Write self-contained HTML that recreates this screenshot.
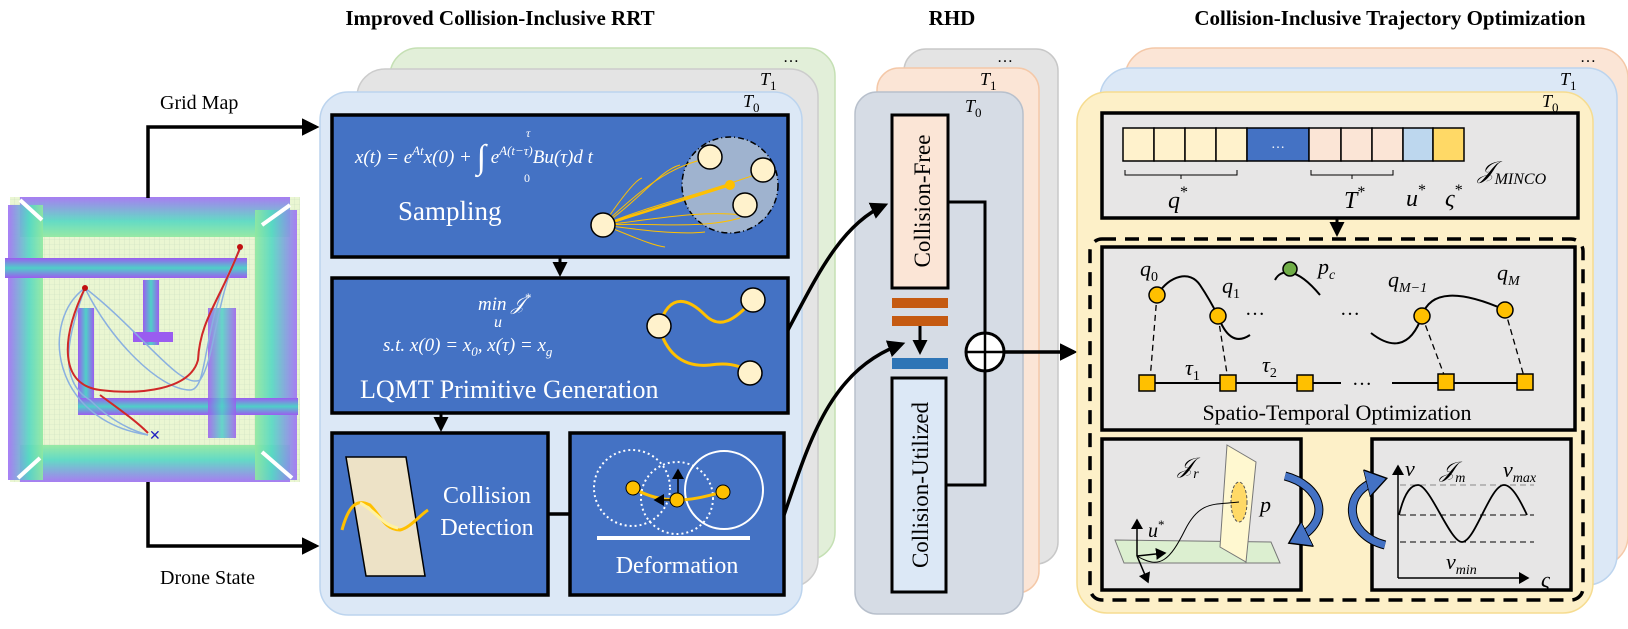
<!DOCTYPE html>
<html><head><meta charset="utf-8"><style>
html,body{margin:0;padding:0;background:#fff;}
svg{display:block;}
.t{font-family:"Liberation Serif",serif;}
.i{font-family:"Liberation Serif",serif;font-style:italic;}
</style></head><body>
<svg width="1628" height="629" viewBox="0 0 1628 629" xmlns="http://www.w3.org/2000/svg">
<defs>
<marker id="ah" markerWidth="8" markerHeight="8" refX="6" refY="4" orient="auto" markerUnits="strokeWidth"><path d="M0,0 L7,4 L0,8 z" fill="#000"/></marker>
<marker id="ah2" markerWidth="5" markerHeight="5" refX="4" refY="2.5" orient="auto" markerUnits="strokeWidth"><path d="M0,0 L5,2.5 L0,5 z" fill="#000"/></marker>
<marker id="bh" markerWidth="4" markerHeight="4" refX="2" refY="2" orient="auto" markerUnits="strokeWidth"><path d="M0,0 L3,2 L0,4 z" fill="#4472c4" stroke="#000" stroke-width="0.2"/></marker>
<pattern id="grid" width="5" height="5" patternUnits="userSpaceOnUse"><rect width="5" height="5" fill="#eaf6d2"/><path d="M5,0 V5 M0,5 H5" stroke="#c9dcc0" stroke-width="0.6"/></pattern>
<linearGradient id="wh" x1="0" y1="0" x2="0" y2="1"><stop offset="0" stop-color="#9b5cf0"/><stop offset="0.5" stop-color="#4fd0c8"/><stop offset="1" stop-color="#9b5cf0"/></linearGradient>
<linearGradient id="wv" x1="0" y1="0" x2="1" y2="0"><stop offset="0" stop-color="#9b5cf0"/><stop offset="0.5" stop-color="#4fd0c8"/><stop offset="1" stop-color="#9b5cf0"/></linearGradient>
<linearGradient id="wt" x1="0" y1="0" x2="0" y2="1"><stop offset="0" stop-color="#a070f5"/><stop offset="0.6" stop-color="#55d8c4"/><stop offset="1" stop-color="#8fe8a0"/></linearGradient>
<linearGradient id="wb" x1="0" y1="1" x2="0" y2="0"><stop offset="0" stop-color="#a070f5"/><stop offset="0.6" stop-color="#55d8c4"/><stop offset="1" stop-color="#8fe8a0"/></linearGradient>
<linearGradient id="wl" x1="0" y1="0" x2="1" y2="0"><stop offset="0" stop-color="#a070f5"/><stop offset="0.6" stop-color="#55d8c4"/><stop offset="1" stop-color="#8fe8a0"/></linearGradient>
<linearGradient id="wr" x1="1" y1="0" x2="0" y2="0"><stop offset="0" stop-color="#a070f5"/><stop offset="0.6" stop-color="#55d8c4"/><stop offset="1" stop-color="#8fe8a0"/></linearGradient>
</defs>

<text x="500" y="25" class="t" font-size="21" font-weight="bold" text-anchor="middle">Improved Collision-Inclusive RRT</text>
<text x="952" y="25" class="t" font-size="21" font-weight="bold" text-anchor="middle">RHD</text>
<text x="1390" y="25" class="t" font-size="21" font-weight="bold" text-anchor="middle">Collision-Inclusive Trajectory Optimization</text>

<g>
<rect x="10" y="197" width="290" height="285" fill="url(#grid)"/>
<rect x="20" y="197" width="270" height="40" fill="url(#wt)" opacity="0.9"/>
<rect x="20" y="445" width="270" height="37" fill="url(#wb)" opacity="0.9"/>
<rect x="8" y="205" width="35" height="275" fill="url(#wl)" opacity="0.9"/>
<rect x="255" y="210" width="42" height="270" fill="url(#wr)" opacity="0.9"/>
<rect x="5" y="258" width="242" height="20" fill="url(#wh)"/>
<rect x="78" y="308" width="16" height="105" fill="url(#wv)"/>
<rect x="78" y="398" width="220" height="17" fill="url(#wh)"/>
<rect x="143" y="280" width="16" height="65" fill="url(#wv)"/>
<rect x="133" y="332" width="40" height="10" fill="#9a5cf0"/>
<rect x="208" y="308" width="28" height="130" fill="url(#wv)" opacity="0.85"/>
<path d="M20,200 L42,220 M290,205 L262,225 M18,478 L40,458 M292,478 L262,452" stroke="#fff" stroke-width="4"/>
<path d="M85,288 C70,330 55,380 90,400 C110,420 130,430 148,435" fill="none" stroke="#8ab0e0" stroke-width="1.5"/>
<path d="M85,288 C40,320 50,420 148,435" fill="none" stroke="#8ab0e0" stroke-width="1.5"/>
<path d="M85,288 C110,340 160,390 190,390 C210,390 200,320 240,250" fill="none" stroke="#8ab0e0" stroke-width="1.5"/>
<path d="M85,288 C140,330 180,390 200,380 C215,360 215,300 240,248" fill="none" stroke="#8ab0e0" stroke-width="1.5"/>
<path d="M85,288 C60,340 60,385 100,390 C140,395 190,390 198,360 C200,320 220,300 240,248" fill="none" stroke="#d02828" stroke-width="2"/>
<path d="M100,395 C120,410 135,420 148,433" fill="none" stroke="#d02828" stroke-width="2"/>
<circle cx="85" cy="288" r="3" fill="#c01010"/><circle cx="240" cy="247" r="3" fill="#c01010"/>
<text x="149" y="440" font-size="14" fill="#2020c0" font-family="Liberation Sans,sans-serif">✕</text>
</g>

<text x="160" y="109" class="t" font-size="20">Grid Map</text>
<path d="M148,198 V127 H316" fill="none" stroke="#000" stroke-width="3.5" marker-end="url(#ah2)"/>
<text x="160" y="584" class="t" font-size="20">Drone State</text>
<path d="M148,482 V546 H316" fill="none" stroke="#000" stroke-width="3.5" marker-end="url(#ah2)"/>

<rect x="390" y="48" width="445" height="512" rx="28" fill="#e2efd9" stroke="#c5e0b4" stroke-width="1.5"/>
<rect x="357" y="69" width="461" height="518" rx="28" fill="#e4e4e4" stroke="#cccccc" stroke-width="1.5"/>
<rect x="320" y="92" width="482" height="523" rx="28" fill="#dce8f6" stroke="#bcd4ee" stroke-width="1.5"/>
<text x="783" y="62" class="t" font-size="16">…</text>
<text x="760" y="85" class="i" font-size="18">T<tspan font-style="normal" font-size="13" dy="5">1</tspan></text>
<text x="743" y="107" class="i" font-size="18">T<tspan font-style="normal" font-size="13" dy="5">0</tspan></text>

<rect x="332" y="115" width="456" height="142" fill="#4472c4" stroke="#000" stroke-width="3.5"/>
<text x="355" y="163" class="i" font-size="19" fill="#fff">x(t) = e<tspan dy="-8" font-size="13">At</tspan><tspan dy="8">x(0) + </tspan><tspan font-style="normal" font-size="34" dy="5">∫</tspan><tspan dy="-5"> e</tspan><tspan dy="-8" font-size="13">A(t−τ)</tspan><tspan dy="8">Bu(τ)d t</tspan></text>
<text x="526" y="137" class="i" font-size="12" fill="#fff">τ</text>
<text x="524" y="182" class="t" font-size="12" fill="#fff">0</text>
<text x="398" y="220" class="t" font-size="27" fill="#fff">Sampling</text>
<circle cx="730" cy="185" r="48" fill="#9fb3cf" stroke="#000" stroke-width="1.5" stroke-dasharray="6 3 1 3"/>
<g stroke="#ffc000" fill="none" stroke-width="1">
<path d="M603,225 C640,200 660,170 680,165"/><path d="M603,225 C640,190 670,165 710,158"/>
<path d="M603,225 C650,205 700,195 763,172"/><path d="M603,225 C650,220 700,210 742,215"/>
<path d="M603,225 C650,222 700,230 740,218"/><path d="M603,225 C640,230 680,235 705,232"/>
<path d="M603,225 C630,235 650,245 665,247"/><path d="M603,225 C620,200 635,180 642,178"/>
</g>
<path d="M603,225 L730,185" stroke="#ffc000" stroke-width="2.5"/>
<circle cx="730" cy="185" r="5" fill="#ffc000"/>
<g fill="#fff2cc" stroke="#000" stroke-width="1.5">
<circle cx="710" cy="157" r="12"/><circle cx="763" cy="170" r="12"/><circle cx="745" cy="205" r="12"/><circle cx="603" cy="225" r="12"/>
</g>
<line x1="560" y1="258" x2="560" y2="274" stroke="#000" stroke-width="3" marker-end="url(#ah2)"/>

<rect x="332" y="278" width="456" height="135" fill="#4472c4" stroke="#000" stroke-width="3.5"/>
<text x="478" y="310" class="i" font-size="19" fill="#fff">min 𝒥<tspan dy="-8" font-size="13">*</tspan></text>
<text x="494" y="327" class="i" font-size="16" fill="#fff">u</text>
<text x="383" y="351" class="i" font-size="19" fill="#fff">s.t. x(0) = x<tspan font-size="13" dy="5">0</tspan><tspan dy="-5">, x(τ) = x</tspan><tspan font-size="13" dy="5">g</tspan></text>
<text x="360" y="398" class="t" font-size="26" fill="#fff">LQMT Primitive Generation</text>
<path d="M659,326 C670,290 690,300 705,315 C720,330 735,320 753,300" fill="none" stroke="#ffc000" stroke-width="3"/>
<path d="M659,326 C665,350 680,368 710,365 C730,362 742,366 750,373" fill="none" stroke="#ffc000" stroke-width="3"/>
<g fill="#fff2cc" stroke="#000" stroke-width="1.5">
<circle cx="659" cy="326" r="12"/><circle cx="753" cy="300" r="12"/><circle cx="750" cy="373" r="12"/>
</g>
<line x1="441" y1="414" x2="441" y2="429" stroke="#000" stroke-width="3" marker-end="url(#ah2)"/>

<rect x="332" y="433" width="216" height="162" fill="#4472c4" stroke="#000" stroke-width="3.5"/>
<polygon points="346,457 406,457 425,576 366,576" fill="#ede2c6" stroke="#000" stroke-width="1.5"/>
<path d="M342,530 C350,500 360,500 370,505 C380,515 385,530 400,530 C410,528 420,515 428,510" fill="none" stroke="#ffc000" stroke-width="3"/>
<path d="M360,503 C375,510 382,525 398,528" fill="none" stroke="#fff2a0" stroke-width="3"/>
<text x="487" y="503" class="t" font-size="24" fill="#fff" text-anchor="middle">Collision</text>
<text x="487" y="535" class="t" font-size="24" fill="#fff" text-anchor="middle">Detection</text>
<line x1="548" y1="514" x2="570" y2="514" stroke="#000" stroke-width="3.5"/>

<rect x="570" y="433" width="214" height="162" fill="#4472c4" stroke="#000" stroke-width="3.5"/>
<circle cx="632" cy="488" r="38" fill="none" stroke="#fff" stroke-width="2" stroke-dasharray="2 3"/>
<circle cx="677" cy="498" r="36" fill="none" stroke="#fff" stroke-width="2" stroke-dasharray="2 3"/>
<circle cx="724" cy="490" r="39" fill="none" stroke="#fff" stroke-width="2"/>
<path d="M633,488 C650,498 665,500 677,500 C695,500 710,495 723,492" fill="none" stroke="#ffc000" stroke-width="3"/>
<line x1="678" y1="500" x2="678" y2="470" stroke="#000" stroke-width="1.5" marker-end="url(#ah)"/>
<line x1="678" y1="500" x2="655" y2="500" stroke="#000" stroke-width="1.5" marker-end="url(#ah)"/>
<g fill="#ffc000" stroke="#000" stroke-width="1"><circle cx="633" cy="488" r="7"/><circle cx="677" cy="500" r="7"/><circle cx="723" cy="492" r="7"/></g>
<line x1="597" y1="538" x2="750" y2="538" stroke="#fff" stroke-width="4"/>
<text x="677" y="573" class="t" font-size="24" fill="#fff" text-anchor="middle">Deformation</text>

<rect x="904" y="49" width="154" height="515" rx="22" fill="#e4e4e4" stroke="#c8c8c8" stroke-width="1.5"/>
<rect x="877" y="68" width="162" height="525" rx="22" fill="#fbe5d6" stroke="#f4c8a8" stroke-width="1.5"/>
<rect x="855" y="92" width="168" height="522" rx="22" fill="#d6dce5" stroke="#b8c0cc" stroke-width="1.5"/>
<text x="997" y="62" class="t" font-size="16">…</text>
<text x="980" y="85" class="i" font-size="18">T<tspan font-style="normal" font-size="13" dy="5">1</tspan></text>
<text x="965" y="112" class="i" font-size="18">T<tspan font-style="normal" font-size="13" dy="5">0</tspan></text>
<rect x="892" y="115" width="56" height="173" fill="#fbe5d6" stroke="#000" stroke-width="3"/>
<text transform="translate(930,201) rotate(-90)" class="t" font-size="23" text-anchor="middle">Collision-Free</text>
<rect x="892" y="298" width="56" height="10" fill="#c55a11"/>
<rect x="892" y="316" width="56" height="10" fill="#c55a11"/>
<line x1="920" y1="326" x2="920" y2="352" stroke="#000" stroke-width="3" marker-end="url(#ah2)"/>
<rect x="892" y="358" width="56" height="11" fill="#2e75b6"/>
<rect x="892" y="378" width="54" height="214" fill="#dce8f6" stroke="#000" stroke-width="3"/>
<text transform="translate(928,485) rotate(-90)" class="t" font-size="23" text-anchor="middle">Collision-Utilized</text>
<path d="M948,202 H985 V485 H946" fill="none" stroke="#000" stroke-width="3"/>
<circle cx="985" cy="352" r="19" fill="#fff" stroke="#000" stroke-width="3"/>
<line x1="966" y1="352" x2="1004" y2="352" stroke="#000" stroke-width="2.5"/>
<line x1="985" y1="333" x2="985" y2="371" stroke="#000" stroke-width="2.5"/>
<path d="M1004,352 H1074" stroke="#000" stroke-width="3.5" marker-end="url(#ah2)"/>

<path d="M788,330 C815,280 840,225 885,205" fill="none" stroke="#000" stroke-width="3.5" marker-end="url(#ah2)"/>
<path d="M784,515 C810,440 830,370 902,344" fill="none" stroke="#000" stroke-width="3.5" marker-end="url(#ah2)"/>

<rect x="1125" y="48" width="503" height="518" rx="30" fill="#fbe5d6" stroke="#f4c8a8" stroke-width="1.5"/>
<rect x="1100" y="68" width="517" height="517" rx="30" fill="#dce8f6" stroke="#bcd4ee" stroke-width="1.5"/>
<rect x="1077" y="92" width="516" height="521" rx="30" fill="#fdf0c8" stroke="#f6dc90" stroke-width="1.5"/>
<text x="1580" y="62" class="t" font-size="16">…</text>
<text x="1560" y="85" class="i" font-size="18">T<tspan font-style="normal" font-size="13" dy="5">1</tspan></text>
<text x="1542" y="107" class="i" font-size="18">T<tspan font-style="normal" font-size="13" dy="5">0</tspan></text>

<rect x="1102" y="113" width="476" height="105" fill="#e7e6e6" stroke="#000" stroke-width="3.5"/>
<g stroke="#000" stroke-width="1.5">
<rect x="1123" y="128" width="31" height="33" fill="#fff2cc"/><rect x="1154" y="128" width="31" height="33" fill="#fff2cc"/>
<rect x="1185" y="128" width="31" height="33" fill="#fff2cc"/><rect x="1216" y="128" width="31" height="33" fill="#fff2cc"/>
<rect x="1247" y="128" width="62" height="33" fill="#4472c4"/>
<rect x="1309" y="128" width="32" height="33" fill="#fbe5d6"/><rect x="1341" y="128" width="31" height="33" fill="#fbe5d6"/>
<rect x="1372" y="128" width="31" height="33" fill="#fbe5d6"/>
<rect x="1403" y="128" width="30" height="33" fill="#bdd7ee"/><rect x="1433" y="128" width="31" height="33" fill="#ffd966"/>
</g>
<text x="1278" y="148" class="t" font-size="14" fill="#fff" text-anchor="middle">…</text>
<path d="M1125,170 V175 H1237 V170 M1181,175 V179" fill="none" stroke="#000" stroke-width="1"/>
<path d="M1311,170 V175 H1393 V170 M1352,175 V179" fill="none" stroke="#000" stroke-width="1"/>
<text x="1168" y="208" class="i" font-size="24">q<tspan font-style="normal" font-size="16" dy="-11">*</tspan></text>
<text x="1344" y="208" class="i" font-size="24">T<tspan font-style="normal" font-size="16" dy="-11">*</tspan></text>
<text x="1406" y="206" class="i" font-size="24">u<tspan font-style="normal" font-size="16" dy="-11">*</tspan></text>
<text x="1445" y="206" class="i" font-size="24">ς<tspan font-style="normal" font-size="16" dy="-11">*</tspan></text>
<text x="1478" y="178" class="i" font-size="24">𝒥<tspan font-size="16" dy="6">MINCO</tspan></text>
<line x1="1337" y1="218" x2="1337" y2="234" stroke="#000" stroke-width="3" marker-end="url(#ah2)"/>

<rect x="1090" y="239" width="493" height="361" rx="12" fill="none" stroke="#000" stroke-width="3.5" stroke-dasharray="14 9"/>

<rect x="1102" y="247" width="473" height="183" fill="#e7e6e6" stroke="#000" stroke-width="3.5"/>
<path d="M1157,295 C1170,275 1190,270 1200,285 C1210,300 1215,310 1218,316 C1225,335 1235,345 1250,335" fill="none" stroke="#000" stroke-width="2"/>
<path d="M1275,280 C1280,270 1295,265 1320,295" fill="none" stroke="#000" stroke-width="2"/>
<path d="M1371,333 C1390,348 1410,350 1422,316 C1430,290 1460,290 1505,310" fill="none" stroke="#000" stroke-width="2"/>
<g stroke="#000" stroke-width="1.3" stroke-dasharray="6 4">
<line x1="1157" y1="295" x2="1150" y2="380"/><line x1="1218" y1="316" x2="1228" y2="380"/>
<line x1="1422" y1="316" x2="1446" y2="380"/><line x1="1505" y1="310" x2="1525" y2="380"/>
</g>
<g fill="#ffc000" stroke="#000" stroke-width="1.5">
<circle cx="1157" cy="295" r="8"/><circle cx="1218" cy="316" r="8"/><circle cx="1422" cy="316" r="8"/><circle cx="1505" cy="310" r="8"/>
</g>
<circle cx="1290" cy="269" r="7" fill="#70ad47" stroke="#000" stroke-width="1.5"/>
<line x1="1147" y1="383" x2="1341" y2="383" stroke="#000" stroke-width="2"/>
<line x1="1392" y1="383" x2="1525" y2="383" stroke="#000" stroke-width="2"/>
<g fill="#ffc000" stroke="#000" stroke-width="1.5">
<rect x="1139" y="375" width="16" height="16"/><rect x="1220" y="375" width="16" height="16"/><rect x="1297" y="375" width="16" height="16"/>
<rect x="1438" y="374" width="16" height="16"/><rect x="1517" y="374" width="16" height="16"/>
</g>
<text x="1140" y="276" class="i" font-size="22">q<tspan font-style="normal" font-size="14" dy="5">0</tspan></text>
<text x="1222" y="293" class="i" font-size="22">q<tspan font-style="normal" font-size="14" dy="5">1</tspan></text>
<text x="1318" y="274" class="i" font-size="22">p<tspan font-size="14" dy="5">c</tspan></text>
<text x="1388" y="287" class="i" font-size="22">q<tspan font-size="14" dy="5">M−1</tspan></text>
<text x="1497" y="280" class="i" font-size="22">q<tspan font-size="14" dy="5">M</tspan></text>
<text x="1245" y="315" class="t" font-size="20">…</text>
<text x="1340" y="315" class="t" font-size="20">…</text>
<text x="1352" y="385" class="t" font-size="20">…</text>
<text x="1185" y="375" class="i" font-size="22">τ<tspan font-style="normal" font-size="14" dy="5">1</tspan></text>
<text x="1262" y="372" class="i" font-size="22">τ<tspan font-style="normal" font-size="14" dy="5">2</tspan></text>
<text x="1337" y="420" class="t" font-size="22" text-anchor="middle">Spatio-Temporal Optimization</text>

<rect x="1102" y="439" width="199" height="151" fill="#e7e6e6" stroke="#000" stroke-width="3.5"/>
<polygon points="1115,540 1271,542 1280,563 1124,563" fill="#dcefd0" stroke="#777" stroke-width="1"/>
<polygon points="1227,445 1256,462 1246,562 1220,547" fill="#fff8d0" stroke="#777" stroke-width="1"/>
<ellipse cx="1239" cy="502" rx="8" ry="20" fill="#ffd966" stroke="#555" stroke-width="1" stroke-dasharray="3 2"/>
<path d="M1137,556 C1160,570 1170,560 1185,530 C1200,500 1215,505 1239,502" fill="none" stroke="#000" stroke-width="1"/>
<line x1="1137" y1="556" x2="1137" y2="520" stroke="#000" stroke-width="1.5" marker-end="url(#ah)"/>
<line x1="1137" y1="556" x2="1165" y2="553" stroke="#000" stroke-width="1.5" marker-end="url(#ah)"/>
<line x1="1137" y1="556" x2="1148" y2="582" stroke="#000" stroke-width="1.5" marker-end="url(#ah)"/>
<text x="1178" y="473" class="i" font-size="22">𝒥<tspan font-size="14" dy="5">r</tspan></text>
<text x="1260" y="512" class="i" font-size="22">p</text>
<text x="1148" y="537" class="i" font-size="20">u<tspan font-style="normal" font-size="13" dy="-8">*</tspan></text>

<rect x="1372" y="439" width="199" height="151" fill="#e7e6e6" stroke="#000" stroke-width="3.5"/>
<g stroke="#000" stroke-width="1" stroke-dasharray="6 4">
<line x1="1400" y1="485" x2="1534" y2="485" stroke="#888"/><line x1="1400" y1="515" x2="1534" y2="515"/><line x1="1400" y1="542" x2="1534" y2="542"/>
</g>
<line x1="1398" y1="578" x2="1398" y2="466" stroke="#000" stroke-width="1.5" marker-end="url(#ah)"/>
<line x1="1398" y1="578" x2="1528" y2="578" stroke="#000" stroke-width="1.5" marker-end="url(#ah)"/>
<path d="M1399,515 C1405,490 1412,485 1418,485 C1430,485 1450,542 1462,542 C1475,542 1490,485 1504,485 C1512,485 1520,500 1527,515" fill="none" stroke="#000" stroke-width="1.8"/>
<text x="1405" y="476" class="i" font-size="22">v</text>
<text x="1440" y="477" class="i" font-size="22">𝒥<tspan font-size="14" dy="5">m</tspan></text>
<text x="1503" y="477" class="i" font-size="22">v<tspan font-size="14" dy="5">max</tspan></text>
<text x="1446" y="569" class="i" font-size="22">v<tspan font-size="14" dy="5">min</tspan></text>
<text x="1541" y="587" class="i" font-size="22">ς</text>

<path d="M1285,476 C1320,485 1335,520 1295,540" fill="none" stroke="#000" stroke-width="9" />
<path d="M1285,476 C1320,485 1335,520 1295,540" fill="none" stroke="#4472c4" stroke-width="7" marker-end="url(#bh)"/>
<path d="M1385,545 C1345,535 1340,490 1380,480" fill="none" stroke="#000" stroke-width="9"/>
<path d="M1385,545 C1345,535 1340,490 1380,480" fill="none" stroke="#4472c4" stroke-width="7" marker-end="url(#bh)"/>
</svg>
</body></html>
